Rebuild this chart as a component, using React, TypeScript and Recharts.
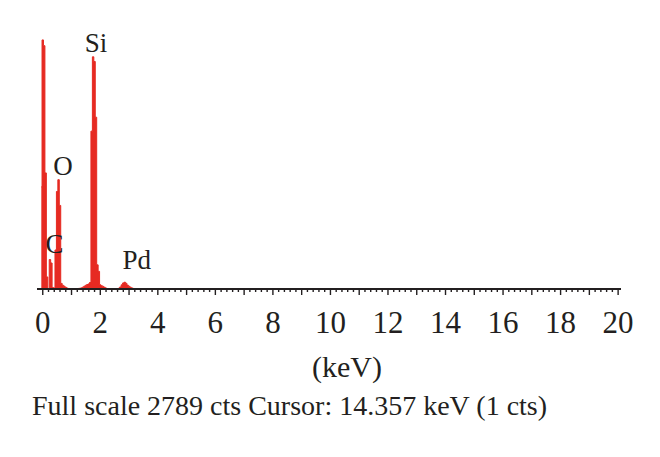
import { ComposedChart, Area, XAxis, YAxis, ReferenceDot } from "recharts";

// channel energies (keV) and counts
const energies = [
  -0.05, 0, 0.05, 0.1, 0.15, 0.2, 0.25, 0.3, 0.35, 0.4, 0.45, 0.5, 0.55, 0.6,
  0.65, 0.7, 0.75, 0.8, 0.85, 0.9, 0.95, 1.0, 1.05, 1.1, 1.15, 1.2, 1.25, 1.3,
  1.35, 1.4, 1.45, 1.5, 1.55, 1.6, 1.65, 1.7, 1.75, 1.8, 1.85, 1.9, 1.95, 2.0,
  2.05, 2.1, 2.15, 2.2, 2.25, 2.3, 2.35, 2.4, 2.45, 2.5, 2.55, 2.6, 2.65, 2.7,
  2.75, 2.8, 2.85, 2.9, 2.95, 3.0, 3.05, 3.1, 3.15, 3.2, 3.25, 3.3, 20,
];
const counts = [
  1100, 2682, 2620, 1250, 130, 0, 317, 280, 15, 10, 420, 1050, 1177, 900,
  60, 40, 30, 18, 10, 6, 4, 3, 3, 3, 4, 4, 6, 8,
  12, 20, 30, 40, 48, 55, 70, 1700, 2500, 2450, 1850, 260, 190, 45,
  35, 28, 18, 10, 5, 3, 2, 2, 2, 2, 3, 4, 8, 22,
  45, 65, 73, 62, 42, 30, 20, 12, 6, 3, 1, 0, 0,
];

const majorLabels = [0, 2, 4, 6, 8, 10, 12, 14, 16, 18, 20];
const tickValues = Array.from({ length: 101 }, (_, i) => Math.round(i * 2) / 10);

const peaks = [
  { name: "Si", keV: 1.85, cts: 2553 },
  { name: "O", keV: 0.7, cts: 1231 },
  { name: "C", keV: 0.41, cts: 392 },
  { name: "Pd", keV: 3.27, cts: 210 },
];

const fullScale = 2789;
const red = "#e62a22";
const ink = "#231f20";
const serif = "'Liberation Serif', 'DejaVu Serif', serif";

const data = energies.map((e, i) => ({ keV: e, cts: counts[i] }));

const Tick = (props: any) => {
  const { x, y, payload } = props;
  const v = payload.value;
  const isInt = Math.abs(v - Math.round(v)) < 1e-6;
  const showLabel = isInt && majorLabels.includes(Math.round(v));
  return (
    <g>
      <line x1={x} y1={y} x2={x} y2={y + (isInt ? 6 : 3)} stroke={ink} strokeWidth={1.4} />
      {showLabel && (
        <text x={x} y={y + 44} textAnchor="middle" fontSize={31} fontFamily={serif} fill={ink}>
          {Math.round(v)}
        </text>
      )}
    </g>
  );
};

export default function App() {
  return (
    <div style={{ position: "relative", width: 652, height: 441, background: "#fff" }}>
      <ComposedChart
        width={652}
        height={341}
        data={data}
        margin={{ top: 22, right: 39, left: 29, bottom: 0 }}
      >
        <XAxis
          type="number"
          dataKey="keV"
          domain={[-0.2, 20.1]}
          allowDataOverflow
          ticks={tickValues}
          interval={0}
          tickLine={false}
          tickSize={0}
          tickMargin={0}
          axisLine={{ stroke: ink, strokeWidth: 2 }}
          tick={<Tick />}
          height={60}
        />
        <YAxis hide domain={[0, fullScale]} allowDataOverflow />
        <Area
          type="step"
          dataKey="cts"
          stroke={red}
          strokeWidth={1}
          fill={red}
          fillOpacity={1}
          isAnimationActive={false}
          dot={false}
          activeDot={false}
        />
        {peaks.map((p) => (
          <ReferenceDot
            key={p.name}
            x={p.keV}
            y={p.cts}
            r={0}
            shape={(s: any) => (
              <text x={s.cx} y={s.cy} textAnchor="middle" fontSize={27} fontFamily={serif} fill={ink}>
                {p.name}
              </text>
            )}
          />
        ))}
      </ComposedChart>
      <div
        style={{
          position: "absolute",
          left: 0,
          width: 652,
          top: 341,
          textAlign: "center",
          fontFamily: serif,
          fontSize: 30,
          lineHeight: "36px",
          color: ink,
          paddingLeft: 26,
          boxSizing: "border-box",
        }}
      >
        (keV)
      </div>
      <div
        style={{
          position: "absolute",
          left: 24,
          top: 381,
          fontFamily: serif,
          fontSize: 28,
          lineHeight: "34px",
          color: ink,
          whiteSpace: "nowrap",
        }}
      >
        Full scale 2789 cts Cursor: 14.357 keV (1 cts)
      </div>
    </div>
  );
}
